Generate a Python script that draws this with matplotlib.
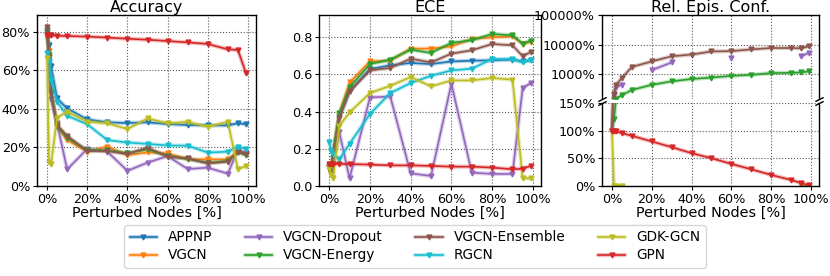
import numpy as np
import matplotlib
matplotlib.use("Agg")
import matplotlib.pyplot as plt
from matplotlib.ticker import FuncFormatter, FixedLocator, NullLocator

nan = np.nan
perturbed = [0, 1, 2, 5, 10, 20, 30, 40, 50, 60, 70, 80, 90, 95, 99]

models = ["APPNP", "VGCN", "VGCN-Dropout", "VGCN-Energy",
          "VGCN-Ensemble", "RGCN", "GDK-GCN", "GPN"]
colors = ["tab:blue", "tab:orange", "tab:purple", "tab:green",
          "tab:brown", "tab:cyan", "tab:olive", "tab:red"]

# accuracy [%]
acc_appnp = [81, 73, 62, 45.4, 40.2, 34.5, 33, 32.6, 33, 32.1, 31.6, 31.4, 31.4, 32.5, 32]
acc_vgcn = [77, 70, 50, 30.7, 23.8, 17.8, 20.4, 16, 17.4, 16.9, 13.8, 13.8, 13.8, 17.8, 16.6]
acc_dropout = [80, 65, 45, 32.5, 8.6, 19.2, 17.8, 7.9, 12.1, 15.5, 8.8, 9.5, 6.4, 19, 16.9]
acc_energy = [80, 68, 49, 31, 25, 18.5, 18.5, 17, 19, 15.5, 14, 12, 13, 17.5, 16]
acc_ensemble = [82.5, 67, 48, 31.6, 26, 18.1, 18.1, 16.6, 19.9, 15.2, 14.3, 11.7, 12.6, 17.8, 16.4]
acc_rgcn = [69, 65, 55, 43.7, 36.4, 32, 23.8, 22.5, 21.8, 21, 20.9, 17.3, 17.8, 20.4, 19.2]
acc_gdk = [66.5, 12.6, 11.4, 35.4, 38.5, 33.3, 32.5, 29.5, 35, 32.5, 33.2, 30.7, 33.3, 8.6, 10.4]
acc_gpn = [78.2, 78, 78, 77.9, 77.7, 77.4, 76.9, 76.3, 75.8, 75.1, 74.4, 73.6, 70.8, 70.5, 58.5]

# ECE
ece_appnp = [0.1, 0.08, 0.15, 0.374, 0.509, 0.629, 0.649, 0.662, 0.656, 0.67, 0.674, 0.676, 0.68, 0.67, 0.676]
ece_vgcn = [0.1, 0.08, 0.18, 0.39, 0.557, 0.67, 0.674, 0.739, 0.739, 0.751, 0.791, 0.8, 0.805, 0.765, 0.775]
ece_dropout = [0.1, 0.07, 0.12, 0.288, 0.041, 0.476, 0.482, 0.068, 0.054, 0.55, 0.072, 0.065, 0.065, 0.527, 0.554]
ece_energy = [0.1, 0.07, 0.19, 0.392, 0.532, 0.656, 0.68, 0.733, 0.716, 0.77, 0.784, 0.818, 0.811, 0.766, 0.782]
ece_ensemble = [0.1, 0.07, 0.17, 0.365, 0.509, 0.622, 0.635, 0.685, 0.665, 0.712, 0.73, 0.764, 0.757, 0.698, 0.721]
ece_rgcn = [0.239, 0.19, 0.17, 0.144, 0.227, 0.387, 0.5, 0.554, 0.593, 0.622, 0.631, 0.683, 0.683, 0.665, 0.68]
ece_gdk = [0.095, 0.06, 0.045, 0.324, 0.396, 0.5, 0.539, 0.586, 0.536, 0.568, 0.568, 0.581, 0.572, 0.041, 0.041]
ece_gpn = [0.119, 0.12, 0.12, 0.118, 0.118, 0.115, 0.111, 0.111, 0.108, 0.104, 0.104, 0.099, 0.09, 0.093, 0.108]

# relative epistemic confidence [%]
conf_appnp = [nan] * 15
conf_vgcn = [nan] * 15
conf_dropout = [100, 200, 380, 450, nan, 1410, 2540, nan, nan, 3490, nan, nan, nan, 4100, 5350]
conf_energy = [100, 121, 155, 202, 302, 450, 588, 707, 787, 899, 973, 1112, 1142, 1173, 1270]
conf_ensemble = [100, 214, 450, 766, 1795, 2750, 4100, 4680, 5950, 6100, 6980, 7770, 7770, 7570, 8870]
conf_rgcn = [nan] * 15
conf_gdk = [100, 0, 0, 0, nan, nan, nan, nan, nan, nan, nan, nan, nan, 1.5, 0.5]
conf_gpn = [100, 100, 98.6, 95.6, 90.7, 80.5, 70.2, 59.3, 50.2, 39.9, 30.2, 20, 10.9, 5.4, 1.2]

acc = [acc_appnp, acc_vgcn, acc_dropout, acc_energy, acc_ensemble, acc_rgcn, acc_gdk, acc_gpn]
ece = [ece_appnp, ece_vgcn, ece_dropout, ece_energy, ece_ensemble, ece_rgcn, ece_gdk, ece_gpn]
conf = [conf_appnp, conf_vgcn, conf_dropout, conf_energy, conf_ensemble, conf_rgcn, conf_gdk, conf_gpn]

TICK = 9.2
TITLE = 11.5
LABEL = 10.4
pct = FuncFormatter(lambda v, p: "%d%%" % v)

fig = plt.figure(figsize=(8.3, 2.76), dpi=100)
W, H = 830.0, 276.0


def box(l, t, r, b):
    return [l / W, 1 - b / H, (r - l) / W, (b - t) / H]


def draw(ax, data):
    handles = []
    for y, c in zip(data, colors):
        halo, = ax.plot(perturbed, y, color=c, lw=3, alpha=0.3, solid_capstyle="round")
        h, = ax.plot(perturbed, y, color=c, lw=1.2, marker="v", ms=3.5)
        handles.append((halo, h))
    return handles


def style(ax):
    ax.grid(True, color="0.35", ls=":", lw=0.8)
    ax.set_axisbelow(True)
    ax.tick_params(labelsize=TICK, length=3, pad=2)
    for s in ax.spines.values():
        s.set_color("black")
        s.set_linewidth(1.0)
    ax.set_xlim(-5, 104)
    ax.xaxis.set_major_locator(FixedLocator([0, 20, 40, 60, 80, 100]))
    ax.xaxis.set_major_formatter(pct)


ax1 = fig.add_axes(box(37, 15, 256, 186))
handles = draw(ax1, acc)
style(ax1)
ax1.set_ylim(0, 88.6)
ax1.yaxis.set_major_locator(FixedLocator([0, 20, 40, 60, 80]))
ax1.yaxis.set_major_formatter(pct)
ax1.set_title("Accuracy", fontsize=TITLE, pad=1)
ax1.set_xlabel("Perturbed Nodes [%]", fontsize=LABEL, labelpad=0)

ax2 = fig.add_axes(box(319, 15, 541, 186))
draw(ax2, ece)
style(ax2)
ax2.set_ylim(0, 0.92)
ax2.yaxis.set_major_locator(FixedLocator([0, 0.2, 0.4, 0.6, 0.8]))
ax2.set_title("ECE", fontsize=TITLE, pad=1)
ax2.set_xlabel("Perturbed Nodes [%]", fontsize=LABEL, labelpad=0)

# broken axis: log part on top, linear part below
ax3t = fig.add_axes(box(602, 15, 819, 99))
ax3b = fig.add_axes(box(602, 103, 819, 186))
draw(ax3t, conf)
draw(ax3b, conf)
style(ax3t)
style(ax3b)
ax3t.set_yscale("log")
ax3t.set_ylim(150, 1e5)
ax3t.yaxis.set_major_locator(FixedLocator([1e3, 1e4, 1e5]))
ax3t.yaxis.set_minor_locator(NullLocator())
ax3t.yaxis.set_major_formatter(pct)
ax3b.set_ylim(0, 150)
ax3b.yaxis.set_major_locator(FixedLocator([0, 50, 100, 150]))
ax3b.yaxis.set_major_formatter(pct)
ax3t.spines["bottom"].set_visible(False)
ax3b.spines["top"].set_visible(False)
ax3t.tick_params(axis="x", which="both", bottom=False, labelbottom=False)
ax3t.set_title("Rel. Epis. Conf.", fontsize=TITLE, pad=1)
ax3b.set_xlabel("Perturbed Nodes [%]", fontsize=LABEL, labelpad=0)

d = 0.5
kw = dict(marker=[(-1, -d), (1, d)], markersize=6, linestyle="none",
          color="k", mec="k", mew=1, clip_on=False)
ax3t.plot([0, 1], [0, 0], transform=ax3t.transAxes, **kw)
ax3b.plot([0, 1], [1, 1], transform=ax3b.transAxes, **kw)

fig.legend(handles, models, loc="lower center", bbox_to_anchor=(0.5, 0.005),
           ncol=4, fontsize=9.8, handlelength=2.0, columnspacing=2.4,
           labelspacing=0.3, borderpad=0.4, frameon=True)

fig.savefig("out.png", dpi=100)
